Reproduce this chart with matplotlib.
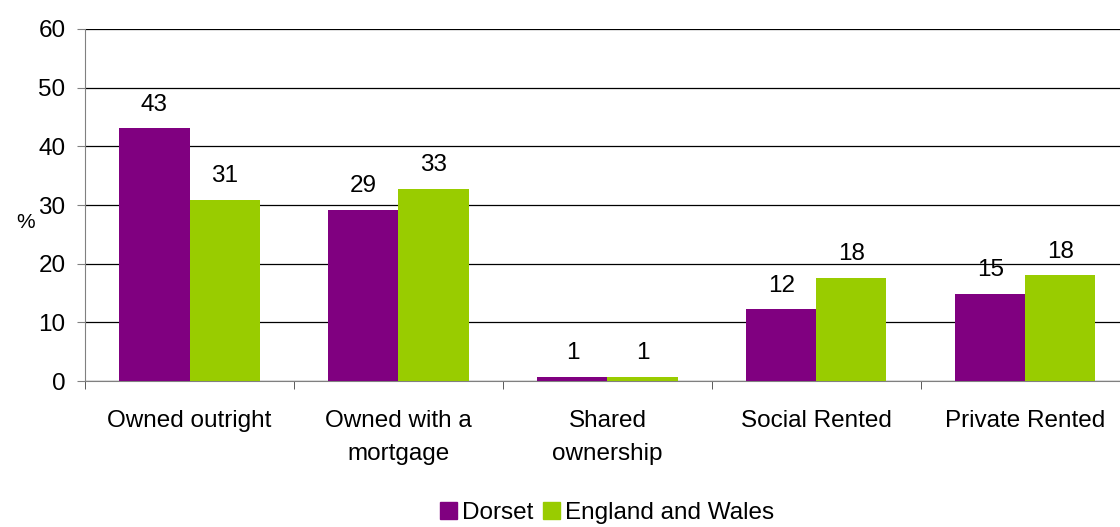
import matplotlib
matplotlib.use("Agg")
from matplotlib import pyplot as plt
from matplotlib.patches import Patch
import numpy as np

plt.rcParams['font.family'] = ['Liberation Sans', 'DejaVu Sans']

categories = ['Owned outright', 'Owned with a\nmortgage', 'Shared\nownership',
              'Social Rented', 'Private Rented']
dorset = [43.1, 29.2, 0.7, 12.2, 14.9]
england_wales = [30.9, 32.8, 0.7, 17.6, 18.0]
dorset_labels = ['43', '29', '1', '12', '15']
ew_labels = ['31', '33', '1', '18', '18']

purple = '#800080'
green = '#99CC00'
fs = 17.5

fig = plt.figure(figsize=(11.2, 5.27), dpi=100)
ax = fig.add_axes([0.0759, 0.277, 0.933, 0.668])

x = np.arange(len(categories))
width = 0.335
b1 = ax.bar(x - width/2, dorset, width, color=purple, label='Dorset', zorder=3)
b2 = ax.bar(x + width/2, england_wales, width, color=green, label='England and Wales', zorder=3)

for bars, labs in ((b1, dorset_labels), (b2, ew_labels)):
    for r, lab in zip(bars, labs):
        ax.annotate(lab, (r.get_x() + r.get_width()/2, r.get_height()),
                    xytext=(0, 9), textcoords='offset points',
                    ha='center', va='bottom', fontsize=fs)

ax.set_xlim(-0.5, 4.5)
ax.set_ylim(0, 60)
ax.set_yticks(np.arange(0, 61, 10))
ax.yaxis.grid(True, color='black', linewidth=0.9, zorder=0)
ax.tick_params(axis='y', labelsize=fs, length=6, color='#808080', pad=8)

ax.set_xticks(x)
ax.set_xticklabels(categories, fontsize=fs, linespacing=1.65)
ax.set_xticks(np.arange(-0.5, 4.6, 1), minor=True)
ax.tick_params(axis='x', which='major', length=0, pad=21)
ax.tick_params(axis='x', which='minor', length=6, color='#404040')

for s in ('top', 'right'):
    ax.spines[s].set_visible(False)
ax.spines['left'].set_color('#808080')
ax.spines['bottom'].set_color('#808080')

ax.set_ylabel('%', rotation=0, fontsize=15, va='center')
ax.yaxis.set_label_coords(-0.057, 0.45)

handles = [Patch(color=purple, label='Dorset'),
           Patch(color=green, label='England and Wales')]
fig.legend(handles=handles, loc='lower center', bbox_to_anchor=(0.542, -0.036),
           ncol=2, frameon=False, fontsize=fs, handlelength=0.7, handleheight=0.7,
           handletextpad=0.2, columnspacing=0.4)

plt.savefig('out.png', dpi=100)
